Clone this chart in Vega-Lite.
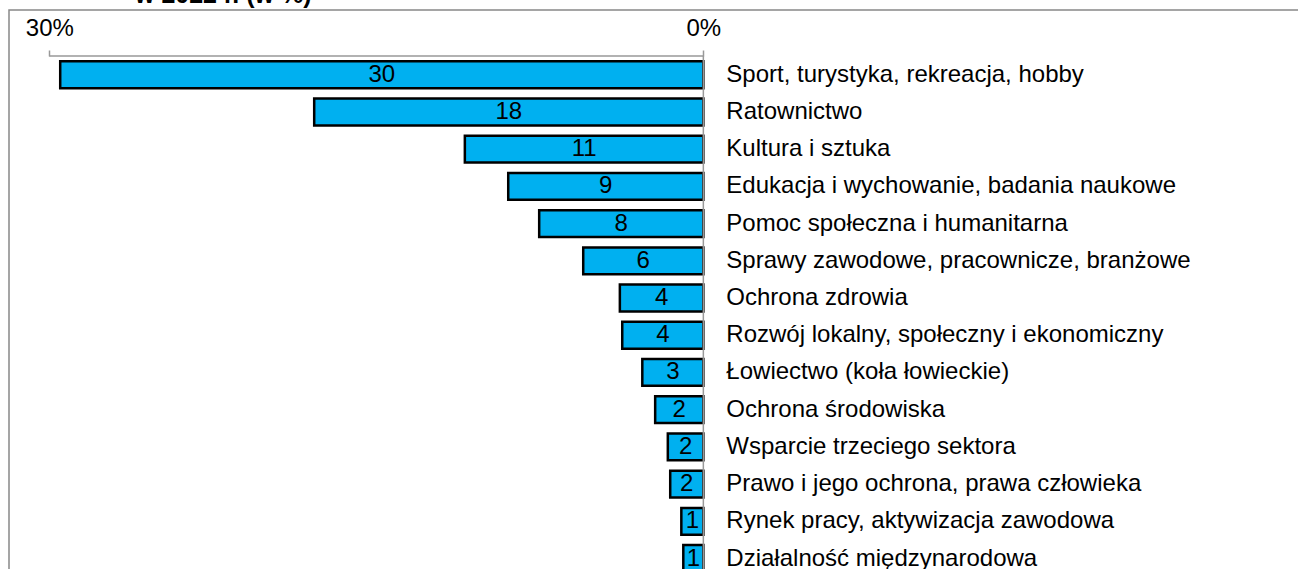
{
  "$schema": "https://vega.github.io/schema/vega-lite/v6.json",
  "autosize": {"type": "none"},
  "padding": {"left": 9, "top": 10, "right": 0, "bottom": 0},
  "width": 1300,
  "height": 585,
  "background": "white",
  "config": {
    "view": {"stroke": "#888888", "strokeWidth": 1.5},
    "font": "Liberation Sans"
  },
  "title": {
    "text": "w 2022 r. (w %)",
    "anchor": "start",
    "frame": "group",
    "dx": 126,
    "dy": -2,
    "offset": 0,
    "fontSize": 25,
    "fontWeight": "bold",
    "font": "Liberation Sans",
    "color": "black"
  },
  "data": {
    "values": [
      {"category": "Sport, turystyka, rekreacja, hobby", "value": 29.5},
      {"category": "Ratownictwo", "value": 17.85},
      {"category": "Kultura i sztuka", "value": 10.94},
      {"category": "Edukacja i wychowanie, badania naukowe", "value": 8.95},
      {"category": "Pomoc społeczna i humanitarna", "value": 7.53},
      {"category": "Sprawy zawodowe, pracownicze, branżowe", "value": 5.51},
      {"category": "Ochrona zdrowia", "value": 3.83},
      {"category": "Rozwój lokalny, społeczny i ekonomiczny", "value": 3.72},
      {"category": "Łowiectwo (koła łowieckie)", "value": 2.80},
      {"category": "Ochrona środowiska", "value": 2.21},
      {"category": "Wsparcie trzeciego sektora", "value": 1.63},
      {"category": "Prawo i jego ochrona, prawa człowieka", "value": 1.52},
      {"category": "Rynek pracy, aktywizacja zawodowa", "value": 1.01},
      {"category": "Działalność międzynarodowa", "value": 0.92}
    ]
  },
  "encoding": {
    "y": {
      "field": "category",
      "type": "nominal",
      "sort": null,
      "axis": null,
      "scale": {"paddingInner": 0.279, "paddingOuter": 1, "align": 0.69}
    }
  },
  "layer": [
    {
      "mark": {"type": "bar", "fill": "#00B0F0", "stroke": "black", "strokeWidth": 2.5},
      "encoding": {
        "x": {
          "field": "value",
          "type": "quantitative",
          "scale": {"domain": [-27.78, 31.849], "reverse": true, "nice": false, "zero": false},
          "axis": {
            "orient": "top",
            "offset": -46,
            "domain": false,
            "grid": false,
            "values": [0, 30],
            "tickSize": 6,
            "tickColor": "#999999",
            "tickWidth": 1.5,
            "labelExpr": "datum.value + '%'",
            "labelFontSize": 24,
            "labelFont": "Liberation Sans",
            "labelColor": "black",
            "labelPadding": 10,
            "labelFlush": false,
            "labelOverlap": false,
            "title": null
          }
        },
        "x2": {"datum": 0}
      }
    },
    {
      "transform": [{"calculate": "datum.value / 2", "as": "mid"}],
      "mark": {"type": "text", "fontSize": 24, "color": "black", "align": "center", "baseline": "middle"},
      "encoding": {
        "x": {"field": "mid", "type": "quantitative"},
        "text": {"field": "value", "type": "quantitative", "format": ".0f"}
      }
    },
    {
      "mark": {"type": "text", "fontSize": 24, "color": "black", "align": "left", "baseline": "middle", "dx": 23},
      "encoding": {
        "x": {"datum": 0},
        "text": {"field": "category", "type": "nominal"}
      }
    },
    {
      "data": {"values": [{}]},
      "mark": {"type": "rule", "color": "#999999", "strokeWidth": 1.5},
      "encoding": {
        "x": {"datum": 30},
        "x2": {"datum": 0},
        "y": {"datum": "Sport, turystyka, rekreacja, hobby", "type": "nominal", "bandPosition": -0.2}
      }
    },
    {
      "data": {"values": [{}]},
      "mark": {"type": "rule", "color": "#999999", "strokeWidth": 1.5},
      "encoding": {
        "x": {"datum": 0},
        "y": {"datum": "Sport, turystyka, rekreacja, hobby", "type": "nominal", "bandPosition": -0.2},
        "y2": {"datum": "Działalność międzynarodowa", "bandPosition": 1.6}
      }
    }
  ]
}
